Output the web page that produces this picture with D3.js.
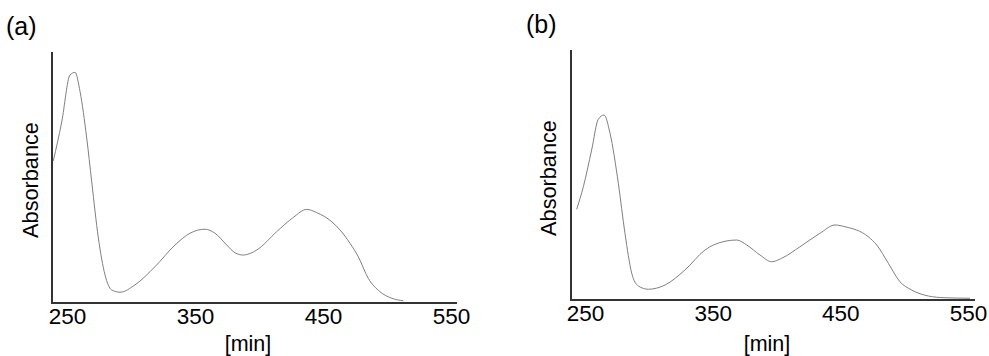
<!DOCTYPE html>
<html>
<head>
<meta charset="utf-8">
<script src="https://cdn.jsdelivr.net/npm/d3@7"></script>
<style>
  html, body { margin: 0; padding: 0; background: #fff; }
  svg { display: block; font-family: "Liberation Sans", Arial, sans-serif; }
</style>
</head>
<body>
<svg id="chart" width="989" height="356"></svg>
<script>
// ---- data ----
const xTicks = [250, 350, 450, 550];
const xLabel = "[min]";
const yLabel = "Absorbance";
const panelLabels = ["(a)", "(b)"];

const wavelengthA = [239.3, 245.9, 252.3, 256.3, 260.2, 265.4, 269.3, 274.5, 279.7, 284.9, 291.4, 303.1, 318.8, 334.4, 346.1, 357.8, 365.6, 374.8, 381.3, 387.7, 398.2, 413.8, 426.8, 437.3, 445.1, 456.8, 463.3, 471.1, 477.6, 485.4, 494.5, 503.7, 512.7];
const absorbanceA = [0.566, 0.722, 0.908, 0.919, 0.842, 0.657, 0.483, 0.259, 0.112, 0.052, 0.043, 0.072, 0.145, 0.231, 0.278, 0.294, 0.278, 0.231, 0.200, 0.191, 0.211, 0.284, 0.341, 0.373, 0.360, 0.324, 0.291, 0.238, 0.184, 0.098, 0.045, 0.019, 0.009];

const wavelengthB = [243.5, 248.7, 255.2, 260.4, 264.9, 269.6, 276.1, 281.3, 286.6, 291.8, 299.6, 312.7, 328.3, 344.0, 350.5, 368.8, 376.7, 387.1, 396.2, 404.1, 418.4, 434.1, 445.8, 453.7, 471.9, 478.5, 487.6, 496.7, 505.9, 518.9, 532.0, 551.6];
const absorbanceB = [0.363, 0.453, 0.600, 0.723, 0.740, 0.667, 0.467, 0.267, 0.107, 0.056, 0.043, 0.060, 0.120, 0.200, 0.220, 0.240, 0.220, 0.180, 0.153, 0.167, 0.213, 0.267, 0.300, 0.293, 0.253, 0.220, 0.147, 0.073, 0.040, 0.016, 0.009, 0.007];

// ---- layout ----
const panels = [
  { label: panelLabels[0], xs: wavelengthA, ys: absorbanceA,
    axisLeft: 52, axisRight: 457, axisTop: 52, axisBottom: 303,
    tickLeft: 67, tickRight: 451, labelPos: [6, 35],
    yLabelPos: [37.5, 180], xLabelPos: [248, 351] },
  { label: panelLabels[1], xs: wavelengthB, ys: absorbanceB,
    axisLeft: 571, axisRight: 975, axisTop: 50, axisBottom: 300,
    tickLeft: 585, tickRight: 968, labelPos: [526, 33],
    yLabelPos: [556, 178], xLabelPos: [767, 351] }
];

const svg = d3.select("#chart");

panels.forEach(p => {
  const g = svg.append("g");
  const x = d3.scaleLinear().domain([xTicks[0], xTicks[xTicks.length - 1]]).range([p.tickLeft, p.tickRight]);
  const y = d3.scaleLinear().domain([0, 1]).range([p.axisBottom, p.axisTop]);

  // curve
  const line = d3.line()
    .x((d, i) => x(p.xs[i]))
    .y((d, i) => y(p.ys[i]))
    .curve(d3.curveMonotoneX);
  g.append("path")
    .attr("d", line(p.xs))
    .attr("fill", "none")
    .attr("stroke", "#808080")
    .attr("stroke-width", 1);

  // axis lines
  g.append("path")
    .attr("d", `M${p.axisLeft},${p.axisTop}V${p.axisBottom}H${p.axisRight}`)
    .attr("fill", "none")
    .attr("stroke", "#333")
    .attr("stroke-width", 2);

  // tick labels
  const ax = g.append("g")
    .attr("transform", `translate(0,${p.axisBottom})`)
    .call(d3.axisBottom(x).tickValues(xTicks).tickSize(0).tickPadding(5.5).tickFormat(d3.format("d")));
  ax.select(".domain").remove();
  ax.selectAll("text")
    .attr("font-size", "22.5px")
    .attr("font-family", "'Liberation Sans', Arial, sans-serif")
    .attr("fill", "#000");

  // axis titles
  g.append("text")
    .attr("x", p.xLabelPos[0]).attr("y", p.xLabelPos[1])
    .attr("text-anchor", "middle")
    .attr("font-size", "21.5px")
    .text(xLabel);
  g.append("text")
    .attr("transform", `translate(${p.yLabelPos[0]},${p.yLabelPos[1]}) rotate(-90)`)
    .attr("text-anchor", "middle")
    .attr("font-size", "21.7px")
    .text(yLabel);

  // panel label
  g.append("text")
    .attr("x", p.labelPos[0]).attr("y", p.labelPos[1])
    .attr("font-size", "25px")
    .text(p.label);
});
</script>
</body>
</html>
